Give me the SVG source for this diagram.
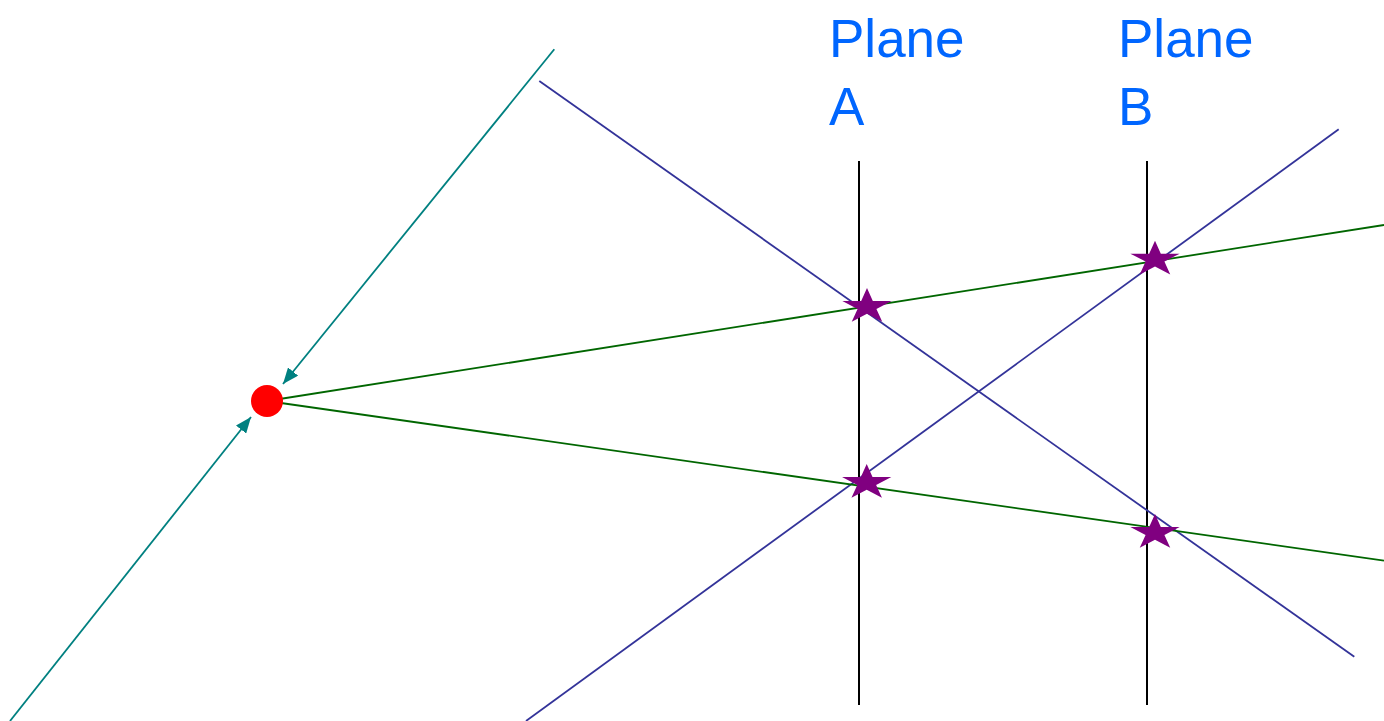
<svg xmlns="http://www.w3.org/2000/svg" width="1384" height="721" viewBox="0 0 1384 721">
<style>
.lbl{font-family:"Liberation Sans",Arial,sans-serif;font-size:53px;fill:#0066FF}
.plane{stroke:#000;stroke-width:2;fill:none}
.blue{stroke:#333399;stroke-width:1.8;fill:none}
.green{stroke:#006600;stroke-width:1.8;fill:none}
.teal{stroke:#008080;stroke-width:1.8;fill:none}
.star{fill:#800080}
</style>
<defs>
<marker id="ah" viewBox="0 0 16 13" refX="16" refY="6.5" markerWidth="16" markerHeight="13" markerUnits="userSpaceOnUse" orient="auto">
<path d="M0,0 L16,6.5 L0,13 Z" fill="#008080"/>
</marker>
<path id="st" transform="scale(1.05)" d="M0,-17.7 L5.54,-5.46 L23.49,-5.47 L8.97,2.09 L14.52,14.31 L0,6.75 L-14.52,14.31 L-8.97,2.09 L-23.49,-5.47 L-5.54,-5.46 Z"/>
</defs>
<g id="planeA">
<line class="plane" x1="859" y1="161" x2="859" y2="705"/>
<text class="lbl" x="829" y="57">Plane</text>
<text class="lbl" x="829" y="125">A</text>
</g>
<g id="planeB">
<line class="plane" x1="1147" y1="161" x2="1147" y2="705"/>
<text class="lbl" x="1118" y="57">Plane</text>
<text class="lbl" x="1118" y="125">B</text>
</g>
<g id="connectors">
<line class="blue" x1="539.3" y1="81" x2="1354.3" y2="656.7"/>
<line class="blue" x1="1338.7" y1="129.3" x2="526" y2="721"/>
<line class="green" x1="267" y1="401" x2="1384" y2="225"/>
<line class="green" x1="267" y1="401" x2="1384" y2="560.7"/>
<line class="teal" x1="554.3" y1="49.3" x2="283" y2="384" marker-end="url(#ah)"/>
<line class="teal" x1="10" y1="721" x2="251" y2="417" marker-end="url(#ah)"/>
</g>
<g id="source">
<circle cx="267" cy="401" r="16" fill="#FF0000"/>
</g>
<g id="starA1"><use href="#st" class="star" x="867" y="306.7"/></g>
<g id="starA2"><use href="#st" class="star" x="866.7" y="482.7"/></g>
<g id="starB1"><use href="#st" class="star" x="1155" y="259.4"/></g>
<g id="starB2"><use href="#st" class="star" x="1155" y="532.7"/></g>
</svg>
